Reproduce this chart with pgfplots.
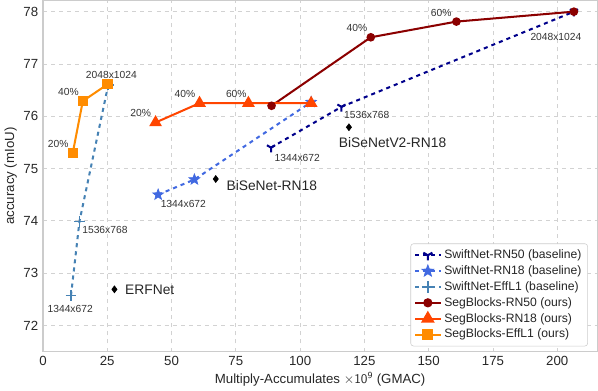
\documentclass[border=0pt]{standalone}
\usepackage{pgfplots}
\pgfplotsset{compat=1.18}
\usepackage{fontspec}
\setmainfont{Liberation Sans}
\usetikzlibrary{plotmarks}
\definecolor{rnfifty}{RGB}{0,0,139}
\definecolor{rneighteen}{RGB}{65,105,225}
\definecolor{effone}{RGB}{70,130,180}
\definecolor{segfifty}{RGB}{139,0,0}
\definecolor{segeighteen}{RGB}{255,69,0}
\definecolor{segeff}{RGB}{255,140,0}
% filled five-pointed star
\pgfdeclareplotmark{fstar}{%
  \pgfpathmoveto{\pgfpointpolar{90}{\pgfplotmarksize}}%
  \pgfpathlineto{\pgfpointpolar{126}{0.42\pgfplotmarksize}}%
  \pgfpathlineto{\pgfpointpolar{162}{\pgfplotmarksize}}%
  \pgfpathlineto{\pgfpointpolar{198}{0.42\pgfplotmarksize}}%
  \pgfpathlineto{\pgfpointpolar{234}{\pgfplotmarksize}}%
  \pgfpathlineto{\pgfpointpolar{270}{0.42\pgfplotmarksize}}%
  \pgfpathlineto{\pgfpointpolar{306}{\pgfplotmarksize}}%
  \pgfpathlineto{\pgfpointpolar{342}{0.42\pgfplotmarksize}}%
  \pgfpathlineto{\pgfpointpolar{18}{\pgfplotmarksize}}%
  \pgfpathlineto{\pgfpointpolar{54}{0.42\pgfplotmarksize}}%
  \pgfpathclose
  \pgfusepathqfillstroke}
\begin{document}
\begin{tikzpicture}
\begin{axis}[
  scale only axis,
  width=410pt, height=259.5pt,
  xmin=0, xmax=215.6, ymin=71.5, ymax=78.21,
  xtick={0,25,...,200}, ytick={72,...,78},
  major tick length=0pt,
  grid=major,
  major grid style={gray!35, dashed, line width=0.6pt},
  axis line style={gray!40, line width=1pt},
  tick label style={font=\fontsize{9.8}{11}\selectfont, text=black!85},
  /pgf/number format/assume math mode=true,
  label style={font=\fontsize{9.8}{11}\selectfont, text=black!85},
  xlabel={Multiply-Accumulates $\times\mathsf{10^9}$ (GMAC)},
  ylabel={accuracy (mIoU)},
  xlabel style={yshift=2pt},
  ylabel style={yshift=-2pt},
  legend style={at={(0.983,0.015)}, anchor=south east, draw=gray!40, rounded corners=2pt,
    font=\fontsize{9}{11}\selectfont, row sep=-0.3pt, inner sep=2.5pt,
    nodes={text=black!85}},
  legend cell align=left,
  legend image post style={scale=1.1},
]
\addplot[rnfifty, dashed, line width=1.5pt, mark=Mercedes star flipped, mark size=3.5pt, mark options={solid}]
  coordinates {(88.7,75.40) (116.1,76.18) (206.5,78.0)};
\addlegendentry{SwiftNet-RN50 (baseline)}
\addplot[rneighteen, dashed, line width=1.5pt, mark=fstar, mark size=4.2pt, mark options={solid, line width=0.5pt, line join=miter}]
  coordinates {(44.8,74.50) (58.9,74.79) (104.3,76.27)};
\addlegendentry{SwiftNet-RN18 (baseline)}
\addplot[effone, dashed, line width=1.5pt, mark=+, mark size=4pt, mark options={solid, line width=1.2pt}]
  coordinates {(10.9,72.57) (14.2,73.99) (25.4,76.60)};
\addlegendentry{SwiftNet-EffL1 (baseline)}
\addplot[segfifty, line width=1.5pt, mark=*, mark size=2.4pt]
  coordinates {(88.9,76.20) (127.5,77.51) (160.8,77.81) (206.5,78.0)};
\addlegendentry{SegBlocks-RN50 (ours)}
\addplot[segeighteen, line width=1.5pt, mark=triangle*, mark size=4pt]
  coordinates {(43.8,75.88) (60.9,76.25) (79.9,76.25) (104.3,76.25)};
\addlegendentry{SegBlocks-RN18 (ours)}
\addplot[segeff, line width=1.5pt, mark=square*, mark size=3pt]
  coordinates {(11.6,75.30) (15.5,76.29) (25.1,76.61)};
\addlegendentry{SegBlocks-EffL1 (ours)}
\addplot[only marks, black, mark=diamond*, mark size=2.6pt, forget plot]
  coordinates {(27.8,72.69) (67.2,74.80) (119.0,75.79)};

\begin{scope}[every node/.style={font=\fontsize{7.6}{9}\selectfont, text=black!80, inner sep=0pt}]
\node at (axis cs:26.6,76.78) {2048x1024};
\node at (axis cs:9.9,76.46) {40\%};
\node at (axis cs:5.9,75.47) {20\%};
\node at (axis cs:38.0,76.07) {20\%};
\node at (axis cs:55.2,76.42) {40\%};
\node at (axis cs:75.2,76.43) {60\%};
\node at (axis cs:122.1,77.68) {40\%};
\node at (axis cs:154.9,77.97) {60\%};
\node at (axis cs:199.5,77.51) {2048x1024};
\node at (axis cs:125.9,76.02) {1536x768};
\node at (axis cs:98.9,75.20) {1344x672};
\node at (axis cs:54.6,74.32) {1344x672};
\node at (axis cs:24.1,73.82) {1536x768};
\node at (axis cs:10.6,72.31) {1344x672};
\end{scope}
\begin{scope}[every node/.style={font=\fontsize{10.2}{12}\selectfont, text=black!85, inner sep=0pt, anchor=west}]
\node at (axis cs:31.9,72.69) {ERFNet};
\node at (axis cs:71.3,74.68) {BiSeNet-RN18};
\node at (axis cs:115.0,75.50) {BiSeNetV2-RN18};
\end{scope}
\end{axis}
\end{tikzpicture}
\end{document}
